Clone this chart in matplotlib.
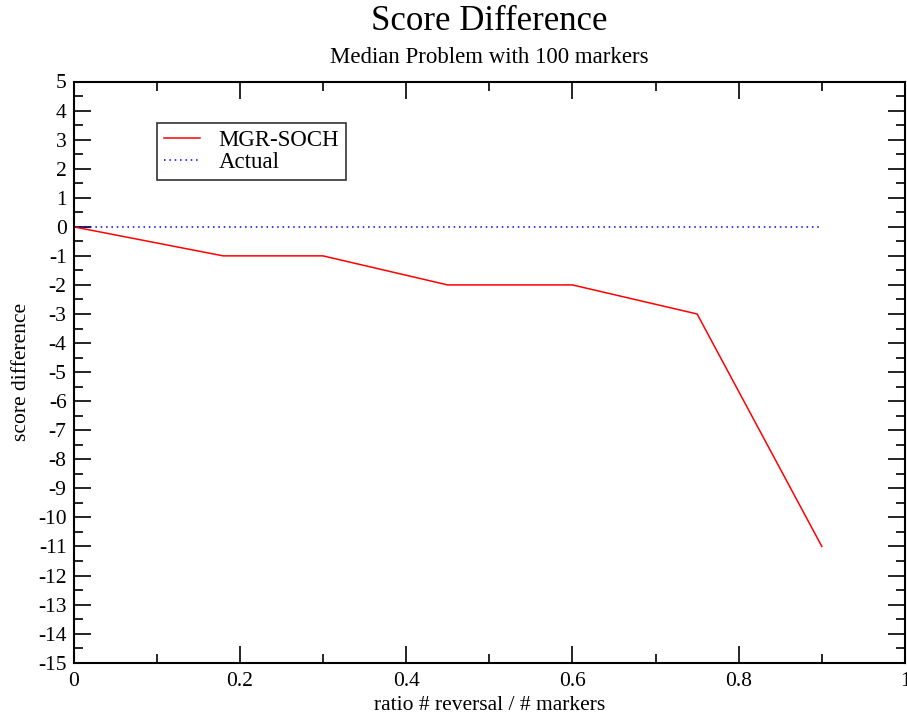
import numpy as np
import matplotlib
matplotlib.use("Agg")
import matplotlib.pyplot as plt
from matplotlib.ticker import MultipleLocator

# --- data ---
ratio = [0.0, 0.18, 0.3, 0.45, 0.6, 0.75, 0.9]
mgr_soch = [0, -1, -1, -2, -2, -3, -11]
actual_x = [0.0, 0.9]
actual_y = [0, 0]

plt.rcParams['font.family'] = ['Liberation Serif', 'DejaVu Serif']
plt.rcParams['axes.unicode_minus'] = False

W, H = 907, 715
fig = plt.figure(figsize=(W / 100, H / 100), dpi=100)
ax = fig.add_axes([73.5 / W, 1 - 662.7 / H, (905 - 73.5) / W, (662.7 - 81.5) / H])

ax.plot(ratio, mgr_soch, color='#ff0000', lw=1.1, label='MGR-SOCH')
ax.plot(actual_x, actual_y, color='#0000ff', lw=1.1, ls=(0, (1, 2.5)), label='Actual')

ax.set_xlim(0, 1)
ax.set_ylim(-15, 5)
ax.xaxis.set_minor_locator(MultipleLocator(0.1))
ax.yaxis.set_minor_locator(MultipleLocator(0.5))
ax.set_xticks(np.arange(0, 1.01, 0.2))
ax.set_xticklabels(['0', '0.2', '0.4', '0.6', '0.8', '1'])
ax.set_yticks(np.arange(-15, 6, 1))
ax.set_yticklabels([str(v) for v in range(-15, 6)])

ax.tick_params(which='both', direction='in', top=True, right=True, width=1.2)
ax.tick_params(which='major', length=12, labelsize=15.5)
ax.tick_params(axis='x', which='major', pad=7)
ax.tick_params(axis='y', which='major', pad=5)
ax.tick_params(which='minor', length=6.5)
for s in ax.spines.values():
    s.set_linewidth(1.5)

ax.set_xlabel('ratio # reversal / # markers', fontsize=15.5, labelpad=3)
ax.set_ylabel('score difference', fontsize=15.5, labelpad=5)

cx = 0.5 * (73.5 + 905) / W
fig.text(cx, 1 - 30 / H, 'Score Difference', fontsize=25,
         ha='center', va='baseline')
fig.text(cx, 1 - 63 / H, 'Median Problem with 100 markers',
         fontsize=16.5, ha='center', va='baseline')

leg = ax.legend(loc='upper left', bbox_to_anchor=(156.7 / W, 1 - 122.7 / H),
                bbox_transform=fig.transFigure, fontsize=16.5, frameon=True,
                fancybox=False, edgecolor='black', borderpad=0.3,
                handlelength=1.6, handletextpad=0.8, labelspacing=0.05,
                borderaxespad=0)
leg.get_frame().set_linewidth(1.2)

fig.savefig('out.png', dpi=100)
